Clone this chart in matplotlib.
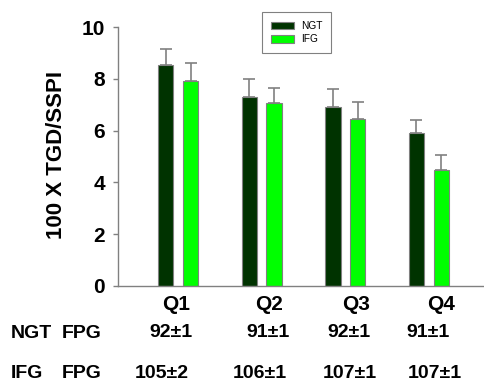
"""
Grouped bar chart: 100 X TGD/SSPI by FPG quartile, NGT vs IFG
"""

import matplotlib
matplotlib.use("Agg")
import matplotlib.pyplot as plt
import numpy as np

# Data
quartiles = ["Q1", "Q2", "Q3", "Q4"]
ngt_values = [8.53, 7.31, 6.90, 5.89]
ngt_errors = [0.61, 0.68, 0.69, 0.51]
ifg_values = [7.90, 7.05, 6.46, 4.47]
ifg_errors = [0.70, 0.61, 0.66, 0.59]
ngt_fpg = ["92±1", "91±1", "92±1", "91±1"]
ifg_fpg = ["105±2", "106±1", "107±1", "107±1"]

# Style
NGT_COLOR = "#003300"
IFG_COLOR = "#00FF00"
GRAY = "#808080"
BAR_WIDTH = 0.185
OFFSET = 0.149

plt.rcParams['font.family'] = ['Liberation Sans', 'DejaVu Sans']
plt.rcParams['font.weight'] = 'bold'

fig = plt.figure(figsize=(4.85, 3.83), dpi=100)
ax = fig.add_axes([0.2433, 0.2533, 0.7547, 0.6762])

x = np.arange(len(quartiles))
err_kw = dict(ecolor=GRAY, elinewidth=1.2, capsize=4, capthick=1.2)
ax.bar(x - OFFSET, ngt_values, BAR_WIDTH, color=NGT_COLOR, edgecolor=GRAY,
       linewidth=0.8, yerr=[np.zeros(4), ngt_errors], error_kw=err_kw, label="NGT")
ax.bar(x + OFFSET, ifg_values, BAR_WIDTH, color=IFG_COLOR, edgecolor=GRAY,
       linewidth=0.8, yerr=[np.zeros(4), ifg_errors], error_kw=err_kw, label="IFG")

ax.set_xlim(-0.72, 3.66)
ax.set_ylim(0, 10)
ax.set_yticks([0, 2, 4, 6, 8, 10])
ax.set_xticks([])
ax.tick_params(axis='y', direction='out', length=3.6, width=1, color=GRAY,
               pad=5.8, labelsize=15)
for lbl in ax.get_yticklabels():
    lbl.set_fontweight('bold')
for side in ['top', 'right']:
    ax.spines[side].set_visible(False)
for side in ['left', 'bottom']:
    ax.spines[side].set_color(GRAY)
    ax.spines[side].set_linewidth(1)

ax.set_ylabel("100 X TGD/SSPI", fontsize=16, fontweight='bold')
ax.yaxis.set_label_coords(-0.138, 0.506)

# Rows of labels under the axis
trans = ax.get_xaxis_transform()
q_x = [-0.03, 1.09, 2.13, 3.15]
ngt_x = [-0.09, 1.08, 2.04, 2.99]
ifg_x = [-0.20, 0.98, 2.05, 3.07]
for i in range(len(quartiles)):
    ax.text(q_x[i], -0.073, quartiles[i], transform=trans, ha='center',
            va='center', fontsize=15, fontweight='bold', clip_on=False)
    ax.text(ngt_x[i], -0.181, ngt_fpg[i], transform=trans, ha='center',
            va='center', fontsize=14, fontweight='bold', clip_on=False)
    ax.text(ifg_x[i], -0.336, ifg_fpg[i], transform=trans, ha='center',
            va='center', fontsize=14, fontweight='bold', clip_on=False)

fig.text(0.0227, 1 - 333 / 383, "NGT", ha='left', va='center', fontsize=14, fontweight='bold')
fig.text(0.128, 1 - 333 / 383, "FPG", ha='left', va='center', fontsize=14, fontweight='bold')
fig.text(0.0227, 1 - 373 / 383, "IFG", ha='left', va='center', fontsize=14, fontweight='bold')
fig.text(0.128, 1 - 373 / 383, "FPG", ha='left', va='center', fontsize=14, fontweight='bold')

leg = fig.legend(loc='upper left', bbox_to_anchor=(0.540, 0.9695),
                 fancybox=False, edgecolor=GRAY, framealpha=1, handlelength=2.3,
                 handleheight=0.75, handletextpad=0.65, borderpad=0.9,
                 labelspacing=0.35, borderaxespad=0,
                 prop={'weight': 'normal', 'size': 7.3})
leg.get_frame().set_linewidth(0.8)

fig.savefig("out.png", dpi=100)
